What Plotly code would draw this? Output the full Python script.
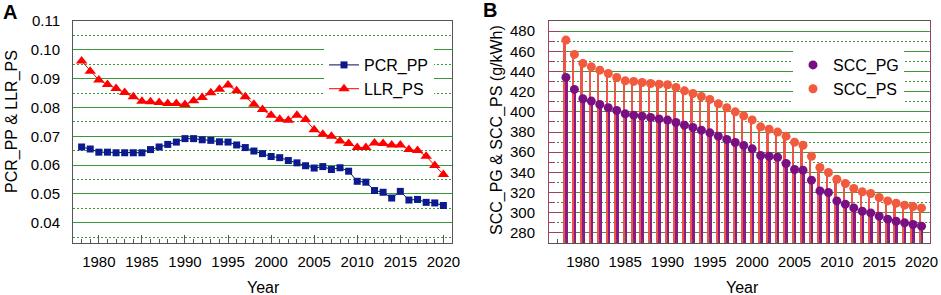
import plotly.graph_objects as go

years = list(range(1978, 2021))

pcr_pp = [0.0663, 0.0656, 0.0645, 0.0645, 0.0643, 0.0643, 0.0643, 0.0643, 0.0654, 0.0663,
          0.0672, 0.0680, 0.0692, 0.0692, 0.0688, 0.0686, 0.0681, 0.0680, 0.0670, 0.0661,
          0.0649, 0.0640, 0.0630, 0.0626, 0.0616, 0.0608, 0.0598, 0.0590, 0.0595, 0.0585,
          0.0591, 0.0579, 0.0544, 0.0541, 0.0512, 0.0506, 0.0486, 0.0509, 0.0479, 0.0481,
          0.0471, 0.0469, 0.0460]

llr_ps = [0.0961, 0.0926, 0.0895, 0.0880, 0.0866, 0.0852, 0.0837, 0.0822, 0.0820, 0.0817,
          0.0814, 0.0814, 0.0810, 0.0823, 0.0835, 0.0851, 0.0863, 0.0878, 0.0858, 0.0837,
          0.0811, 0.0793, 0.0773, 0.0759, 0.0756, 0.0773, 0.0758, 0.0723, 0.0707, 0.0700,
          0.0684, 0.0675, 0.0661, 0.0661, 0.0677, 0.0675, 0.0670, 0.0670, 0.0654, 0.0651,
          0.0631, 0.0599, 0.0568]

scc_pg = [434.1, 422.2, 412.9, 410.6, 407.3, 404.0, 401.4, 398.0, 396.7, 395.7,
          394.4, 393.0, 391.8, 389.4, 386.8, 384.5, 381.8, 379.2, 375.9, 372.6,
          369.6, 366.7, 363.3, 356.7, 356.0, 355.0, 348.8, 342.8, 342.2, 332.3,
          321.6, 320.0, 311.7, 308.5, 304.8, 301.5, 299.8, 296.6, 293.6, 291.6,
          290.0, 288.3, 286.7]

scc_ps = [471.1, 456.9, 448.0, 444.6, 441.3, 438.0, 434.0, 430.7, 430.1, 429.1,
          428.1, 427.4, 426.8, 424.2, 420.8, 418.2, 415.2, 412.3, 407.9, 404.0,
          400.0, 396.0, 392.0, 385.1, 382.8, 379.9, 375.9, 369.9, 366.9, 356.0,
          344.8, 339.9, 333.2, 329.0, 324.0, 320.7, 319.0, 315.1, 311.7, 309.5,
          307.5, 306.2, 304.8]

y2_base = 270

FONT = "Liberation Sans, Arial, sans-serif"
GREEN = "#3a9a3a"
MAROON = "#a0405e"
GREY = "#555555"
DOT = "2px,2px"
W, H = 941, 295

def px_x(a, b):
    return [a / W, b / W]

def px_y(top, bottom):
    return [(H - bottom) / H, (H - top) / H]

fig = go.Figure()

# Panel A
fig.add_trace(go.Scatter(x=years, y=pcr_pp, name="PCR_PP", mode="lines+markers",
                         line=dict(color="#0a0a50", width=1),
                         marker=dict(symbol="square", size=7, color="#0b1a8c"),
                         xaxis="x", yaxis="y", legend="legend"))
fig.add_trace(go.Scatter(x=years, y=llr_ps, name="LLR_PS", mode="lines+markers",
                         line=dict(color="#ff0000", width=1),
                         marker=dict(symbol="triangle-up", size=10, color="#ff0000"),
                         xaxis="x", yaxis="y", legend="legend"))

# Panel B stems
fig.add_trace(go.Bar(x=years, y=[v - y2_base for v in scc_ps], base=y2_base,
                     width=0.22, offset=-0.26, marker=dict(color="#ee5548", line=dict(width=0)),
                     showlegend=False, xaxis="x2", yaxis="y2", hoverinfo="skip"))
fig.add_trace(go.Bar(x=years, y=[v - y2_base for v in scc_pg], base=y2_base,
                     width=0.3, offset=-0.08, marker=dict(color="#8a1a8c", line=dict(width=0)),
                     showlegend=False, xaxis="x2", yaxis="y2", hoverinfo="skip"))
fig.add_trace(go.Scatter(x=years, y=scc_pg, name="SCC_PG", mode="markers",
                         marker=dict(size=9, color="#7a0f82"),
                         xaxis="x2", yaxis="y2", legend="legend2"))
fig.add_trace(go.Scatter(x=years, y=scc_ps, name="SCC_PS", mode="markers",
                         marker=dict(size=9, color="#f15a3c"),
                         xaxis="x2", yaxis="y2", legend="legend2"))

tickfont = dict(family=FONT, size=15, color="black")

common_x = dict(dtick=5, tick0=1980, ticks="inside", ticklen=8, tickcolor=GREY,
                showline=True, linecolor=GREY, linewidth=1, mirror=True, automargin=False,
                showgrid=False, zeroline=False, tickfont=tickfont, ticklabelstandoff=5,
                minor=dict(dtick=1, ticks="inside", ticklen=4, tickcolor=GREY, showgrid=False))

fig.update_layout(
    template="none",
    width=W, height=H, margin=dict(l=0, r=0, t=0, b=0, pad=0),
    paper_bgcolor="white", plot_bgcolor="white",
    barmode="overlay", bargap=0,
    font=dict(family=FONT, size=15, color="black"),
    xaxis=dict(domain=px_x(73, 452), range=[1977, 2021], anchor="y", **common_x),
    yaxis=dict(domain=px_y(21, 243), range=[0.033, 0.11], dtick=0.01, tick0=0,
               tickformat=".2f", ticks="", showline=True, linecolor=GREY, mirror=True,
               showgrid=True, gridcolor=GREEN, gridwidth=1, zeroline=False, automargin=False,
               tickfont=tickfont, ticklabelstandoff=9, anchor="x",
               minor=dict(dtick=0.005, showgrid=True, gridcolor=GREEN, griddash=DOT, gridwidth=1)),
    xaxis2=dict(domain=px_x(549, 930), range=[1976, 2021], anchor="y2", **common_x),
    yaxis2=dict(domain=px_y(21, 243), range=[270, 490], dtick=20, tick0=0,
                ticks="inside", ticklen=12, tickcolor=MAROON, tickwidth=1,
                showline=True, linecolor=MAROON, mirror=True, automargin=False,
                showgrid=True, gridcolor=GREEN, gridwidth=1, zeroline=False,
                tickfont=tickfont, ticklabelstandoff=10, anchor="x2",
                minor=dict(dtick=10, ticks="inside", ticklen=6, tickcolor=MAROON,
                           showgrid=True, gridcolor=GREEN, griddash=DOT, gridwidth=1)),
    legend=dict(x=324 / W, y=(H - 48) / H, xanchor="left", yanchor="top",
                bgcolor="white", borderwidth=0, font=dict(family=FONT, size=16),
                tracegroupgap=0, itemwidth=30),
    legend2=dict(x=793 / W, y=(H - 48) / H, xanchor="left", yanchor="top",
                 bgcolor="white", borderwidth=0, font=dict(family=FONT, size=16),
                 tracegroupgap=0, itemwidth=30),
    annotations=[
        dict(text="<b>A</b>", x=10 / W, y=(H - 12) / H, xref="paper", yref="paper",
             showarrow=False, font=dict(family=FONT, size=20), xanchor="center", yanchor="middle"),
        dict(text="<b>B</b>", x=490 / W, y=(H - 10) / H, xref="paper", yref="paper",
             showarrow=False, font=dict(family=FONT, size=20), xanchor="center", yanchor="middle"),
        dict(text="PCR_PP &amp; LLR_PS", x=12 / W, y=(H - 122) / H, xref="paper", yref="paper",
             showarrow=False, textangle=-90, font=dict(family=FONT, size=16),
             xanchor="center", yanchor="middle"),
        dict(text="SCC_PG &amp; SCC_PS (g/kWh)", x=497 / W, y=(H - 130) / H, xref="paper", yref="paper",
             showarrow=False, textangle=-90, font=dict(family=FONT, size=16),
             xanchor="center", yanchor="middle"),
        dict(text="Year", x=263 / W, y=(H - 287) / H, xref="paper", yref="paper",
             showarrow=False, font=dict(family=FONT, size=16), xanchor="center", yanchor="middle"),
        dict(text="Year", x=742 / W, y=(H - 287) / H, xref="paper", yref="paper",
             showarrow=False, font=dict(family=FONT, size=16), xanchor="center", yanchor="middle"),
    ],
)

fig.write_html("out.html", config={"displayModeBar": False},
               post_script="document.body.style.margin='0';document.body.style.padding='0';")
